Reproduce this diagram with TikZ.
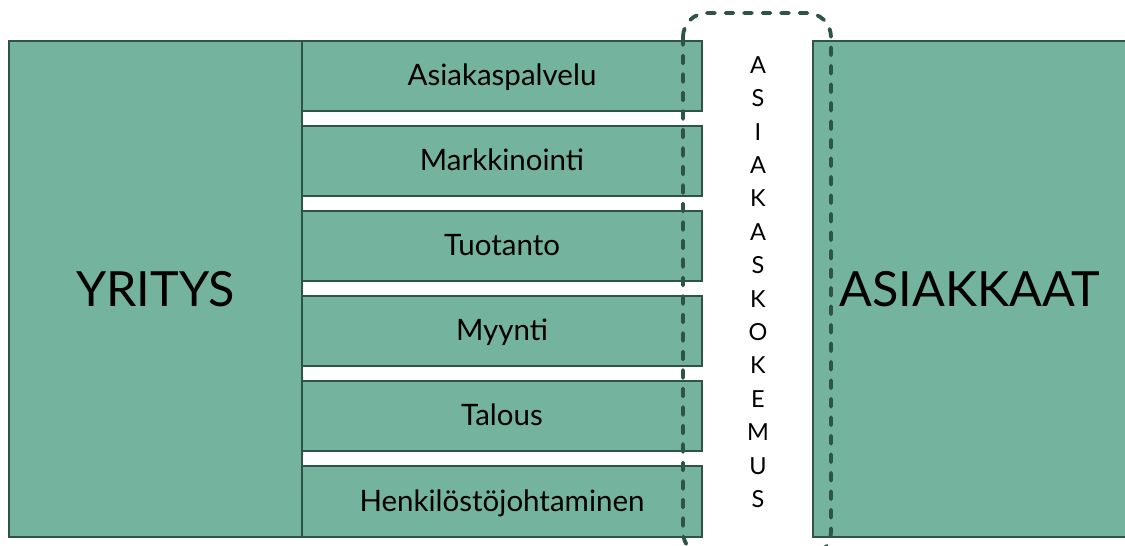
\documentclass[tikz,border=0pt]{standalone}
\usepackage{fontspec}
\setmainfont{Lato}
\definecolor{boxfill}{HTML}{74B49F}
\definecolor{boxline}{HTML}{2E5446}
\tikzset{
  x=1pt, y=-1pt,
  greenbox/.style={draw=boxline, fill=boxfill, line width=2.2pt, inner sep=0pt, outer sep=0pt, text=black},
  bigtext/.style={font=\fontsize{48.5}{52}\selectfont},
  smalltext/.style={font=\fontsize{29.5}{32}\selectfont, text height=24pt, text depth=5pt},
  expframe/.style={draw=boxline, line width=3.8pt, dash pattern=on 8pt off 10.5pt, line cap=round, rounded corners=24pt}
}
\begin{document}
\begin{tikzpicture}
\useasboundingbox (0,0) rectangle (1125,546);
\clip (0,0) rectangle (1125,546);
% left big box
\node[greenbox, bigtext, minimum width=293pt, minimum height=496pt] (yritys) at (155.5,289) {YRITYS};
% sub boxes
\node[greenbox, smalltext, minimum width=400pt, minimum height=70pt] (b1) at (502,76) {Asiakaspalvelu};
\node[greenbox, smalltext, minimum width=400pt, minimum height=70pt] (b2) at (502,161) {Markkinointi};
\node[greenbox, smalltext, minimum width=400pt, minimum height=70pt] (b3) at (502,246) {Tuotanto};
\node[greenbox, smalltext, minimum width=400pt, minimum height=70pt] (b4) at (502,331) {Myynti};
\node[greenbox, smalltext, minimum width=400pt, minimum height=70pt] (b5) at (502,416) {Talous};
\node[greenbox, smalltext, minimum width=400pt, minimum height=71pt] (b6) at (502,501.5) {Henkilöstöjohtaminen};
% right big box
\node[greenbox, bigtext, minimum width=314pt, minimum height=496pt] (asiakkaat) at (970,289) {ASIAKKAAT};
% vertical text
\node[font=\fontsize{23.5}{33.4}\selectfont, align=center, inner sep=0pt] (kokemus) at (758,282)
  {A\\S\\I\\A\\K\\A\\S\\K\\O\\K\\E\\M\\U\\S};
% dashed rounded frame
\coordinate (f1) at (683,13);
\coordinate (f2) at (831,556);
\draw[expframe] (f1) rectangle (f2);
\end{tikzpicture}
\end{document}
